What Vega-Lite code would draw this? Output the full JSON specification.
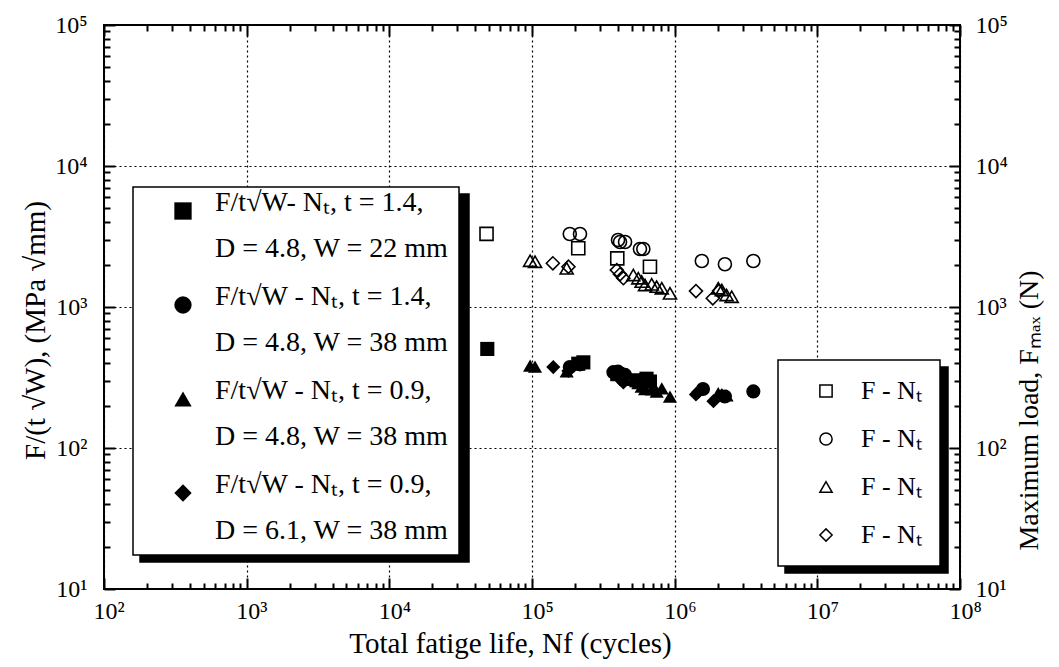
{
  "$schema": "https://vega.github.io/schema/vega-lite/v6.json",
  "width": 856,
  "height": 564,
  "autosize": {"type": "none"},
  "padding": {"left": 104, "top": 25, "right": 99, "bottom": 78},
  "background": "white",
  "datasets": {
    "pts": [
      {"N": 48600, "v": 504, "s": "sqF", "k": "f"},
      {"N": 211000, "v": 396, "s": "sqF", "k": "f"},
      {"N": 229000, "v": 405, "s": "sqF", "k": "f"},
      {"N": 396000, "v": 334, "s": "sqF", "k": "f"},
      {"N": 540000, "v": 302, "s": "sqF", "k": "f"},
      {"N": 635000, "v": 310, "s": "sqF", "k": "f"},
      {"N": 671000, "v": 296, "s": "sqF", "k": "f"},
      {"N": 184000, "v": 375, "s": "ciF", "k": "f"},
      {"N": 217000, "v": 392, "s": "ciF", "k": "f"},
      {"N": 372000, "v": 345, "s": "ciF", "k": "f"},
      {"N": 401000, "v": 348, "s": "ciF", "k": "f"},
      {"N": 414000, "v": 335, "s": "ciF", "k": "f"},
      {"N": 449000, "v": 330, "s": "ciF", "k": "f"},
      {"N": 571000, "v": 300, "s": "ciF", "k": "f"},
      {"N": 603000, "v": 300, "s": "ciF", "k": "f"},
      {"N": 1580000, "v": 262, "s": "ciF", "k": "f"},
      {"N": 2250000, "v": 232, "s": "ciF", "k": "f"},
      {"N": 3560000, "v": 252, "s": "ciF", "k": "f"},
      {"N": 97000, "v": 384, "s": "trF", "k": "f"},
      {"N": 105000, "v": 377, "s": "trF", "k": "f"},
      {"N": 175000, "v": 350, "s": "trF", "k": "f"},
      {"N": 513000, "v": 304, "s": "trF", "k": "f"},
      {"N": 556000, "v": 288, "s": "trF", "k": "f"},
      {"N": 587000, "v": 273, "s": "trF", "k": "f"},
      {"N": 620000, "v": 262, "s": "trF", "k": "f"},
      {"N": 690000, "v": 261, "s": "trF", "k": "f"},
      {"N": 748000, "v": 251, "s": "trF", "k": "f"},
      {"N": 812000, "v": 265, "s": "trF", "k": "f"},
      {"N": 927000, "v": 231, "s": "trF", "k": "f"},
      {"N": 2020000, "v": 245, "s": "trF", "k": "f"},
      {"N": 2310000, "v": 236, "s": "trF", "k": "f"},
      {"N": 141000, "v": 375, "s": "diF", "k": "f"},
      {"N": 180000, "v": 352, "s": "diF", "k": "f"},
      {"N": 393000, "v": 330, "s": "diF", "k": "f"},
      {"N": 414000, "v": 308, "s": "diF", "k": "f"},
      {"N": 437000, "v": 292, "s": "diF", "k": "f"},
      {"N": 1410000, "v": 240, "s": "diF", "k": "f"},
      {"N": 1470000, "v": 251, "s": "diF", "k": "f"},
      {"N": 1870000, "v": 215, "s": "diF", "k": "f"},
      {"N": 2140000, "v": 236, "s": "diF", "k": "f"},
      {"N": 48000, "v": 3300, "s": "sqO", "k": "o"},
      {"N": 211000, "v": 2610, "s": "sqO", "k": "o"},
      {"N": 396000, "v": 2213, "s": "sqO", "k": "o"},
      {"N": 671000, "v": 1930, "s": "sqO", "k": "o"},
      {"N": 184000, "v": 3296, "s": "ciO", "k": "o"},
      {"N": 217000, "v": 3296, "s": "ciO", "k": "o"},
      {"N": 401000, "v": 2985, "s": "ciO", "k": "o"},
      {"N": 414000, "v": 2890, "s": "ciO", "k": "o"},
      {"N": 449000, "v": 2890, "s": "ciO", "k": "o"},
      {"N": 571000, "v": 2578, "s": "ciO", "k": "o"},
      {"N": 603000, "v": 2578, "s": "ciO", "k": "o"},
      {"N": 1550000, "v": 2120, "s": "ciO", "k": "o"},
      {"N": 2250000, "v": 2010, "s": "ciO", "k": "o"},
      {"N": 3560000, "v": 2120, "s": "ciO", "k": "o"},
      {"N": 97000, "v": 2130, "s": "trO", "k": "o"},
      {"N": 105000, "v": 2094, "s": "trO", "k": "o"},
      {"N": 175000, "v": 1880, "s": "trO", "k": "o"},
      {"N": 513000, "v": 1687, "s": "trO", "k": "o"},
      {"N": 556000, "v": 1600, "s": "trO", "k": "o"},
      {"N": 587000, "v": 1514, "s": "trO", "k": "o"},
      {"N": 620000, "v": 1433, "s": "trO", "k": "o"},
      {"N": 690000, "v": 1449, "s": "trO", "k": "o"},
      {"N": 748000, "v": 1394, "s": "trO", "k": "o"},
      {"N": 812000, "v": 1358, "s": "trO", "k": "o"},
      {"N": 927000, "v": 1250, "s": "trO", "k": "o"},
      {"N": 2020000, "v": 1358, "s": "trO", "k": "o"},
      {"N": 2140000, "v": 1321, "s": "trO", "k": "o"},
      {"N": 2310000, "v": 1216, "s": "trO", "k": "o"},
      {"N": 2510000, "v": 1183, "s": "trO", "k": "o"},
      {"N": 140000, "v": 2042, "s": "diO", "k": "o"},
      {"N": 180000, "v": 1930, "s": "diO", "k": "o"},
      {"N": 393000, "v": 1828, "s": "diO", "k": "o"},
      {"N": 414000, "v": 1706, "s": "diO", "k": "o"},
      {"N": 437000, "v": 1600, "s": "diO", "k": "o"},
      {"N": 1410000, "v": 1297, "s": "diO", "k": "o"},
      {"N": 1850000, "v": 1153, "s": "diO", "k": "o"},
      {"N": 2050000, "v": 1300, "s": "diO", "k": "o"}
    ]
  },
  "data": {"name": "pts"},
  "layer": [
    {
      "transform": [{"filter": "datum.k == 'f'"}],
      "mark": {"type": "point", "opacity": 0},
      "encoding": {
        "x": {"field": "N", "type": "quantitative", "scale": {"type": "log", "domain": [100, 100000000], "nice": false},
          "axis": {"orient": "bottom", "offset": -6, "values": [200,300,400,500,600,700,800,900,2000,3000,4000,5000,6000,7000,8000,9000,20000,30000,40000,50000,60000,70000,80000,90000,200000,300000,400000,500000,600000,700000,800000,900000,2000000,3000000,4000000,5000000,6000000,7000000,8000000,9000000,20000000,30000000,40000000,50000000,60000000,70000000,80000000,90000000], "labels": false, "grid": false, "ticks": true, "tickSize": 6, "tickColor": "black", "tickWidth": 2, "tickOpacity": 1, "title": null}},
        "y": {"field": "v", "type": "quantitative", "scale": {"type": "log", "domain": [10, 100000], "nice": false},
          "axis": {"orient": "left", "offset": -6, "values": [20,30,40,50,60,70,80,90,200,300,400,500,600,700,800,900,2000,3000,4000,5000,6000,7000,8000,9000,20000,30000,40000,50000,60000,70000,80000,90000], "labels": false, "grid": false, "ticks": true, "tickSize": 6, "tickColor": "black", "tickWidth": 2, "tickOpacity": 1, "title": null}},
        "color": {"field": "s", "type": "nominal",
          "scale": {"domain": ["sqF", "ciF", "trF", "diF"], "range": ["black", "black", "black", "black"]},
          "legend": {"orient": "none", "legendX": 36, "legendY": 169, "title": null, "padding": 10, "fillColor": "black", "strokeColor": "black",
            "symbolType": "square", "symbolSize": 300, "symbolOffset": 26, "symbolOpacity": 1, "labelColor": "black", "labelFontSize": 28, "labelLimit": 600, "labelOffset": 255, "rowPadding": 20, "labelBaseline": "alphabetic",
            "labelExpr": "[' ', ' ']"}}
      }
    },
    {
      "transform": [{"filter": "datum.k == 'o'"}],
      "mark": {"type": "point", "opacity": 0},
      "encoding": {
        "x": {"field": "N", "type": "quantitative", "scale": {"type": "log", "domain": [100, 100000000], "nice": false},
          "axis": {"orient": "top", "offset": -6, "values": [200,300,400,500,600,700,800,900,2000,3000,4000,5000,6000,7000,8000,9000,20000,30000,40000,50000,60000,70000,80000,90000,200000,300000,400000,500000,600000,700000,800000,900000,2000000,3000000,4000000,5000000,6000000,7000000,8000000,9000000,20000000,30000000,40000000,50000000,60000000,70000000,80000000,90000000], "labels": false, "grid": false, "ticks": true, "tickSize": 6, "tickColor": "black", "tickWidth": 2, "tickOpacity": 1, "title": null}},
        "y": {"field": "v", "type": "quantitative", "scale": {"type": "log", "domain": [10, 100000], "nice": false},
          "axis": {"orient": "right", "offset": -6, "values": [20,30,40,50,60,70,80,90,200,300,400,500,600,700,800,900,2000,3000,4000,5000,6000,7000,8000,9000,20000,30000,40000,50000,60000,70000,80000,90000], "labels": false, "grid": false, "ticks": true, "tickSize": 6, "tickColor": "black", "tickWidth": 2, "tickOpacity": 1, "title": null}},
        "color": {"field": "s", "type": "nominal",
          "scale": {"domain": ["sqO", "ciO", "trO", "diO"], "range": ["black", "black", "black", "black"]},
          "legend": {"orient": "none", "legendX": 681, "legendY": 342, "title": null, "padding": 18, "fillColor": "black", "strokeColor": "black",
            "symbolType": "square", "symbolSize": 150, "symbolOffset": 17, "symbolOpacity": 1, "labelColor": "black", "labelFontSize": 26, "labelLimit": 600, "labelOffset": 84, "rowPadding": 22,
            "labelExpr": "' '"}}
      }
    },
    {
      "transform": [{"filter": "datum.k == 'f'"}],
      "mark": {"type": "point", "filled": true, "color": "black", "size": 200, "opacity": 1},
      "encoding": {
        "x": {"field": "N", "type": "quantitative", "scale": {"type": "log", "domain": [100, 100000000], "nice": false},
          "axis": {"orient": "bottom", "offset": -11, "values": [100,1000,10000,100000,1000000,10000000,100000000], "grid": true, "ticks": true, "tickSize": 11, "tickColor": "black", "tickWidth": 2, "tickOpacity": 1, "labelPadding": 10, "labelAlign": "left", "labelOffset": -11,
            "labelExpr": "'10' + ['⁰','¹','²','³','⁴','⁵','⁶','⁷','⁸'][round(log(datum.value)/LN10)]",
            "title": "Total fatige life, Nf (cycles)", "titleFontSize": 29, "titlePadding": 6, "titleX": 406}},
        "y": {"field": "v", "type": "quantitative", "scale": {"type": "log", "domain": [10, 100000], "nice": false},
          "axis": {"orient": "left", "offset": -11, "values": [10,100,1000,10000,100000], "grid": true, "ticks": true, "tickSize": 11, "tickColor": "black", "tickWidth": 2, "tickOpacity": 1, "labelPadding": 17,
            "labelExpr": "'10' + ['⁰','¹','²','³','⁴','⁵','⁶','⁷','⁸'][round(log(datum.value)/LN10)]",
            "title": "F/(t √W), (MPa √mm)", "titleFontSize": 29, "titleX": -80, "titleY": 305, "titleBaseline": "middle"}},
        "shape": {"field": "s", "type": "nominal",
          "scale": {"domain": ["sqF", "ciF", "trF", "diF"], "range": ["square", "circle", "triangle-up", "diamond"]},
          "legend": {"orient": "none", "legendX": 29, "legendY": 162, "title": null, "padding": 10, "fillColor": "white", "strokeColor": "black",
            "symbolSize": 300, "symbolOffset": 26, "symbolFillColor": "black", "symbolStrokeColor": "black", "symbolStrokeWidth": 0, "symbolOpacity": 1, "labelColor": "black", "labelFontSize": 28, "labelLimit": 600, "labelOffset": 18, "rowPadding": 20, "labelBaseline": "alphabetic",
            "labelExpr": "datum.value == 'sqF' ? ['F/t√W- Nₜ, t = 1.4,', 'D = 4.8, W = 22 mm'] : datum.value == 'ciF' ? ['F/t√W - Nₜ, t = 1.4,', 'D = 4.8, W = 38 mm'] : datum.value == 'trF' ? ['F/t√W - Nₜ, t = 0.9,', 'D = 4.8, W = 38 mm'] : ['F/t√W - Nₜ, t = 0.9,', 'D = 6.1, W = 38 mm']"}}
      }
    },
    {
      "transform": [{"filter": "datum.k == 'o'"}],
      "mark": {"type": "point", "filled": false, "color": "black", "size": 170, "strokeWidth": 1.6, "opacity": 1},
      "encoding": {
        "x": {"field": "N", "type": "quantitative", "scale": {"type": "log", "domain": [100, 100000000], "nice": false},
          "axis": {"orient": "top", "offset": -11, "values": [100,1000,10000,100000,1000000,10000000,100000000], "grid": false, "labels": false, "ticks": true, "tickSize": 11, "tickColor": "black", "tickWidth": 2, "tickOpacity": 1, "title": null}},
        "y": {"field": "v", "type": "quantitative", "scale": {"type": "log", "domain": [10, 100000], "nice": false},
          "axis": {"orient": "right", "offset": -11, "values": [10,100,1000,10000,100000], "grid": false, "ticks": true, "tickSize": 11, "tickColor": "black", "tickWidth": 2, "tickOpacity": 1, "labelPadding": 15,
            "labelExpr": "'10' + ['⁰','¹','²','³','⁴','⁵','⁶','⁷','⁸'][round(log(datum.value)/LN10)]",
            "title": "Maximum load, Fₘₐₓ (N)", "titleFontSize": 28, "titleAngle": 270, "titleX": 80, "titleY": 385, "titleBaseline": "middle"}},
        "shape": {"field": "s", "type": "nominal",
          "scale": {"domain": ["sqO", "ciO", "trO", "diO"], "range": ["square", "circle", "triangle-up", "diamond"]},
          "legend": {"orient": "none", "legendX": 674, "legendY": 335, "title": null, "padding": 18, "fillColor": "white", "strokeColor": "black",
            "symbolSize": 150, "symbolOffset": 17, "symbolFillColor": "white", "symbolStrokeColor": "black", "symbolStrokeWidth": 1.5, "symbolOpacity": 1, "labelColor": "black", "labelFontSize": 26, "labelLimit": 600, "labelOffset": 22, "rowPadding": 22,
            "labelExpr": "'F - Nₜ'"}}
      }
    }
  ],
  "resolve": {
    "scale": {"color": "independent", "shape": "independent"},
    "legend": {"color": "independent", "shape": "independent"},
    "axis": {"x": "independent", "y": "independent"}
  },
  "config": {
    "font": "Liberation Serif",
    "view": {"stroke": "black", "strokeWidth": 2},
    "axis": {
      "labelFont": "Liberation Serif", "titleFont": "Liberation Serif", "labelColor": "black", "titleColor": "black",
      "ticks": true, "tickColor": "black", "tickWidth": 2, "domain": false, "titleFontWeight": "normal", "labelFontSize": 24, "titleFontSize": 26,
      "gridColor": "black", "gridDash": [2, 3], "gridWidth": 1.2, "gridOpacity": 1
    },
    "legend": {"labelFont": "Liberation Serif", "strokeWidth": 1.5},
    "style": {"guide-label": {"lineHeight": 46}}
  }
}
